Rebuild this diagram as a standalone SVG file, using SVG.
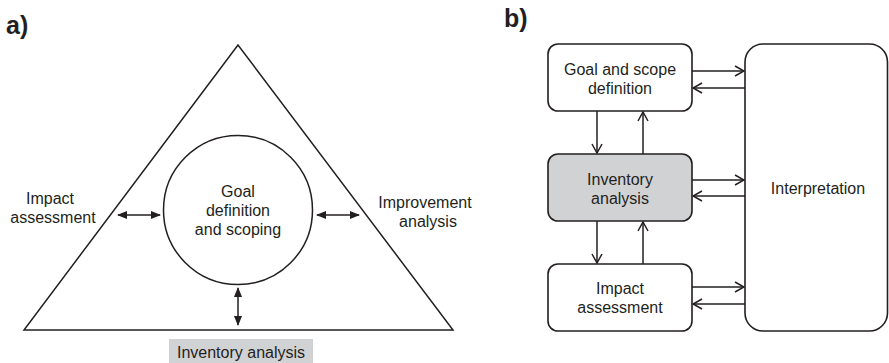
<svg xmlns="http://www.w3.org/2000/svg" width="889" height="363" viewBox="0 0 889 363">
  <style>
    .ln { fill: none; stroke: #231f20; stroke-width: 1.5; }
    .box { fill: #ffffff; stroke: #231f20; stroke-width: 1.6; }
    .grey { fill: #d1d2d4; }
    .t { font-family: "Liberation Sans", Arial, sans-serif; font-size: 16px; fill: #231f20; text-anchor: middle; }
    .hd { font-family: "Liberation Sans", Arial, sans-serif; font-size: 25px; font-weight: bold; fill: #231f20; }
  </style>
  <defs>
    <marker id="solid" viewBox="0 0 10 10" refX="9" refY="5" markerWidth="10" markerHeight="10" markerUnits="userSpaceOnUse" orient="auto-start-reverse">
      <path d="M0,1 L10,5 L0,9 Z" fill="#231f20"/>
    </marker>
    <marker id="open" viewBox="0 0 12 12" refX="11" refY="6" markerWidth="12" markerHeight="12" markerUnits="userSpaceOnUse" orient="auto">
      <path d="M2,1 L11,6 L2,11" fill="none" stroke="#231f20" stroke-width="1.5"/>
    </marker>
  </defs>

  <!-- panel a -->
  <text class="hd" x="6" y="34">a)</text>

  <g id="triangle">
    <polygon class="ln" points="238,45 24,330 453,330"/>
  </g>
  <g id="goal-circle">
    <circle class="ln" cx="238" cy="210" r="74.5"/>
    <text class="t" x="238" y="197">Goal</text>
    <text class="t" x="238" y="216">definition</text>
    <text class="t" x="238" y="235">and scoping</text>
  </g>
  <g id="impact-label">
    <text class="t" x="50" y="204">Impact</text>
    <text class="t" x="53" y="223">assessment</text>
  </g>
  <g id="improvement-label">
    <text class="t" x="425" y="208">Improvement</text>
    <text class="t" x="428" y="227">analysis</text>
  </g>
  <g id="inventory-label">
    <rect class="grey" x="169" y="339" width="144" height="24"/>
    <text class="t" x="241" y="358">Inventory analysis</text>
  </g>

  <g id="a-connectors">
    <line class="ln" x1="118" y1="215" x2="160" y2="215" marker-start="url(#solid)" marker-end="url(#solid)"/>
    <line class="ln" x1="317" y1="215" x2="359" y2="215" marker-start="url(#solid)" marker-end="url(#solid)"/>
    <line class="ln" x1="238" y1="288" x2="238" y2="325" marker-start="url(#solid)" marker-end="url(#solid)"/>
  </g>

  <!-- panel b -->
  <text class="hd" x="504" y="27">b)</text>

  <g id="goal-scope">
    <rect class="box" x="548" y="44" width="144" height="67" rx="10"/>
    <text class="t" x="620" y="75">Goal and scope</text>
    <text class="t" x="620" y="94">definition</text>
  </g>
  <g id="inventory">
    <rect class="box" x="548" y="154" width="144" height="67" rx="10" style="fill:#d1d2d4"/>
    <text class="t" x="620" y="185">Inventory</text>
    <text class="t" x="620" y="204">analysis</text>
  </g>
  <g id="impact">
    <rect class="box" x="548" y="264" width="144" height="67" rx="10"/>
    <text class="t" x="620" y="294">Impact</text>
    <text class="t" x="620" y="313">assessment</text>
  </g>
  <g id="interpretation">
    <rect class="box" x="745" y="44" width="142.5" height="287" rx="18"/>
    <text class="t" x="818" y="194">Interpretation</text>
  </g>

  <g id="b-connectors">
    <line class="ln" x1="692" y1="71" x2="744" y2="71" marker-end="url(#open)"/>
    <line class="ln" x1="745" y1="88" x2="693" y2="88" marker-end="url(#open)"/>
    <line class="ln" x1="692" y1="180" x2="744" y2="180" marker-end="url(#open)"/>
    <line class="ln" x1="745" y1="196" x2="693" y2="196" marker-end="url(#open)"/>
    <line class="ln" x1="692" y1="287" x2="744" y2="287" marker-end="url(#open)"/>
    <line class="ln" x1="745" y1="304" x2="693" y2="304" marker-end="url(#open)"/>
    <line class="ln" x1="597" y1="111" x2="597" y2="153" marker-end="url(#open)"/>
    <line class="ln" x1="643" y1="154" x2="643" y2="112" marker-end="url(#open)"/>
    <line class="ln" x1="597" y1="221" x2="597" y2="263" marker-end="url(#open)"/>
    <line class="ln" x1="643" y1="264" x2="643" y2="222" marker-end="url(#open)"/>
  </g>
</svg>
